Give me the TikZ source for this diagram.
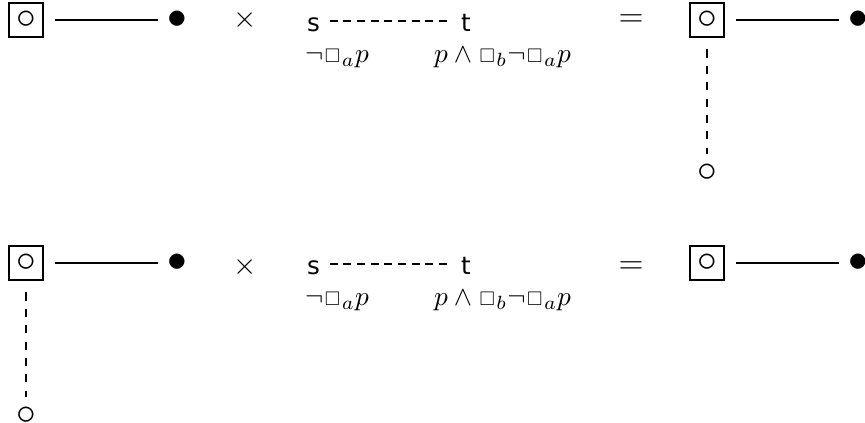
\documentclass[tikz,border=0pt]{standalone}
\usepackage{amssymb}
\usepackage{graphicx}
\usepackage{fontspec}
\setsansfont{DejaVu Sans}
\usetikzlibrary{positioning}
\newcommand{\nbox}{\mathord{\mkern1mu\scalebox{0.72}{$\square$}\mkern1mu}}

\begin{document}
\begin{tikzpicture}[x=0.01287cm, y=-0.01287cm,
    world/.style={draw, line width=0.8pt, minimum size=0.438cm, inner sep=0pt, outer sep=4.5pt, font=\fontsize{15}{16}\selectfont},
    pt/.style={font=\fontsize{15}{16}\selectfont},
    op/.style={font=\fontsize{11}{13}\selectfont},
    state/.style={font=\fontsize{9}{11}\sffamily, text height=0.75em, text depth=0pt},
    fml/.style={anchor=base},
    rel/.style={line width=0.6pt},
    link/.style={line width=0.8pt, densely dashed},
    acc/.style={line width=0.7pt, dashed}]
  \useasboundingbox (0,0) rectangle (865,423);
  % first product
  \node[world] (w1) at (26,20) {$\circ$};
  \node[pt, right=1.32cm of w1] (v1) {$\bullet$};
  \node[op] (times1) at (245,20.5) {$\times$};
  \node[state] (s1) at (313.5,21) {s};
  \node[state] (t1) at (466,21) {t};
  \node[fml] (ls1) at (337,62.5) {$\neg\nbox_a p$};
  \node[fml] (lt1) at (502.5,62.5) {$p \wedge \nbox_b\neg\nbox_a p$};
  \node[op, font=\large] (eq1) at (631,20.8) {$=$};
  \node[world] (w2) at (707,20) {$\circ$};
  \node[pt, right=1.32cm of w2] (v2) {$\bullet$};
  \node[pt, below=1.35cm of w2] (u2) {$\circ$};
  \draw[rel] (w1) -- (v1);
  \draw[link] (s1) -- (t1);
  \draw[rel] (w2) -- (v2);
  \draw[acc] (w2) -- (u2);
  % second product
  \node[world] (w3) at (26,263) {$\circ$};
  \node[pt, right=1.32cm of w3] (v3) {$\bullet$};
  \node[pt, below=1.35cm of w3] (u3) {$\circ$};
  \node[op] (times2) at (245,267) {$\times$};
  \node[state] (s2) at (313.5,264) {s};
  \node[state] (t2) at (466,264) {t};
  \node[fml] (ls2) at (337,305) {$\neg\nbox_a p$};
  \node[fml] (lt2) at (502.5,305) {$p \wedge \nbox_b\neg\nbox_a p$};
  \node[op, font=\large] (eq2) at (631,267.5) {$=$};
  \node[world] (w4) at (707,263) {$\circ$};
  \node[pt, right=1.32cm of w4] (v4) {$\bullet$};
  \draw[rel] (w3) -- (v3);
  \draw[acc] (w3) -- (u3);
  \draw[link] (s2) -- (t2);
  \draw[rel] (w4) -- (v4);
\end{tikzpicture}
\end{document}
